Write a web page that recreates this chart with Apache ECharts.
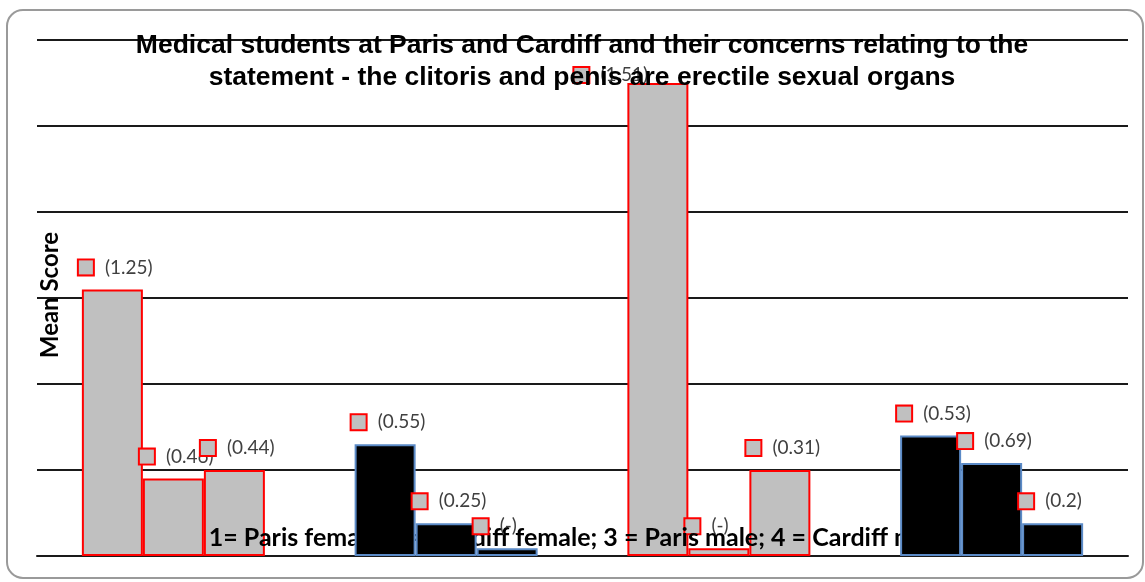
<!DOCTYPE html>
<html>
<head>
<meta charset="utf-8">
<script src="https://cdn.jsdelivr.net/npm/echarts@6/dist/echarts.min.js"></script>
<style>
  html, body { margin: 0; padding: 0; background: #fff; }
  #chart { width: 1145px; height: 582px; }
</style>
</head>
<body>
<div id="chart"></div>
<script>
// groups 1..4, three bars each
const categories = ['1', '2', '3', '4']
const firstBar = [3.1, 1.3, 5.5, 1.4]
const secondBar = [0.9, 0.38, 0.09, 1.08]
const thirdBar = [1.0, 0.09, 1.0, 0.38]
const firstLabels = ['(1.25)', '(0.55)', '(1.51)', '(0.53)']
const secondLabels = ['(0.46)', '(0.25)', '(-)', '(0.69)']
const thirdLabels = ['(0.44)', '(-)', '(0.31)', '(0.2)']

const chart = echarts.init(document.getElementById('chart'))

const grayStyle = { color: '#c0c0c0', borderColor: '#ff0000', borderWidth: 2 }
const blackStyle = { color: '#000000', borderColor: '#5b8ac6', borderWidth: 2 }

const baseLabel = {
  show: true,
  position: 'insideTopLeft',
  distance: 0,
  offset: [-3, -33],
  rich: {
    box: {
      width: 14,
      height: 14,
      backgroundColor: '#c0c0c0',
      borderColor: '#ff0000',
      borderWidth: 2
    },
    t: {
      fontFamily: 'Lato',
      fontSize: 19,
      color: '#404040',
      padding: [0, 0, 0, 12],
      lineHeight: 22
    }
  }
}

// gray bars (groups 1, 3) sit under the axis caption, black bars (2, 4) over it,
// so each slot is split in two stacked series with different z
const buildSeries = (values, labels, slot, dark) => ({
  type: 'bar',
  stack: slot,
  z: dark ? 5 : 2,
  barWidth: 61,
  barGap: '0%',
  itemStyle: dark ? blackStyle : grayStyle,
  data: values.map((v, i) => {
    if ((i % 2 === 1) !== dark) return '-'
    const item = {
      value: v,
      label: { formatter: '{box|}{t|' + labels[i] + '}' }
    }
    // the tallest bar's label sits to its left, under the title
    if (v > 5) item.label.offset = [-53, -19]
    return item
  }),
  label: baseLabel
})

const option = {
  animation: false,
  grid: { left: 37, right: 17, top: 40, bottom: 26 },
  xAxis: {
    type: 'category',
    data: categories,
    axisLine: { lineStyle: { color: '#1a1a1a', width: 2 } },
    axisTick: { show: false },
    axisLabel: { show: false }
  },
  yAxis: {
    type: 'value',
    min: 0,
    max: 6,
    interval: 1,
    axisLabel: { show: false },
    axisLine: { show: false },
    axisTick: { show: false },
    splitLine: { lineStyle: { color: '#1a1a1a', width: 2 } }
  },
  graphic: [
    {
      type: 'rect',
      z: -10,
      shape: { x: 7, y: 10, width: 1136, height: 568, r: 16 },
      style: { fill: 'none', stroke: '#9a9a9a', lineWidth: 2 }
    },
    {
      type: 'text',
      z: 100,
      x: 582,
      y: 30,
      style: {
        text: 'Medical students at Paris and Cardiff and their concerns relating to the\nstatement - the clitoris and penis are erectile sexual organs',
        align: 'center',
        verticalAlign: 'top',
        fontFamily: 'Liberation Sans',
        fontWeight: 'bold',
        fontSize: 26.5,
        lineHeight: 32,
        fill: '#000'
      }
    },
    {
      type: 'text',
      z: 100,
      x: 50,
      y: 295,
      rotation: Math.PI / 2,
      style: {
        text: 'Mean Score',
        align: 'center',
        verticalAlign: 'middle',
        fontFamily: 'Lato',
        fontWeight: 'bold',
        fontSize: 24,
        fill: '#000'
      }
    },
    {
      type: 'text',
      z: 3,
      x: 578,
      y: 538,
      style: {
        text: '1= Paris female; 2 = Cardiff female; 3 = Paris male; 4 = Cardiff male',
        align: 'center',
        verticalAlign: 'middle',
        fontFamily: 'Lato',
        fontWeight: 'bold',
        fontSize: 25,
        fill: '#000'
      }
    }
  ],
  series: [
    buildSeries(firstBar, firstLabels, 'a', false),
    buildSeries(firstBar, firstLabels, 'a', true),
    buildSeries(secondBar, secondLabels, 'b', false),
    buildSeries(secondBar, secondLabels, 'b', true),
    buildSeries(thirdBar, thirdLabels, 'c', false),
    buildSeries(thirdBar, thirdLabels, 'c', true)
  ]
}

chart.setOption(option)
</script>
</body>
</html>
